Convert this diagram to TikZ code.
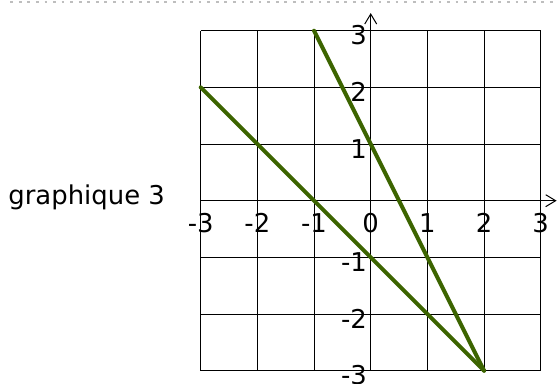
\documentclass[tikz,border=0pt]{standalone}
\usepackage{fontspec}
\setmainfont{DejaVu Sans}
\definecolor{grline}{RGB}{60,100,0}
\definecolor{dotgray}{RGB}{190,190,190}
\usetikzlibrary{arrows.meta}

\begin{document}
\begin{tikzpicture}[
  gridline/.style={draw=black,line width=0.5pt},
  axisline/.style={draw=black,line width=0.5pt,-{Straight Barb[length=5pt,width=6pt]}},
  curve/.style={draw=grline,line width=2pt,line cap=round},
  xlab/.style={anchor=base,inner sep=0pt,font=\fontsize{13}{15}\selectfont},
  ylab/.style={anchor=base east,inner sep=0pt,font=\fontsize{13}{15}\selectfont}
]
  \useasboundingbox (-6.541,-3.234) rectangle (3.287,3.541);
  % Top border
  \draw[dotgray,line width=1.4pt,dash pattern=on 1.4pt off 2.9pt] (-6.36,3.506) -- (3.287,3.506);
  % Grid
  \draw[gridline] (-3,-3) grid (3,3);
  % Axes
  \draw[axisline] (-3,0) -- (3.28,0);
  \draw[axisline] (0,-3) -- (0,3.31);
  % Labels
  \foreach \x in {-3,...,3}
    \node[xlab] (x\x) at (\x,-0.57) {\x};
  \foreach \y in {-3,-2,-1,1,2,3}
    \node[ylab] (y\y) at (-0.06,\y-0.25) {\y};
  \node[anchor=base west,inner sep=0pt,font=\fontsize{13}{15}\selectfont] (title) at (-6.40,-0.076) {graphique 3};
  % Lines
  \coordinate (p1) at (-3,2);
  \coordinate (p2) at (-1,3);
  \coordinate (q) at (2,-3);
  \draw[curve] (p1) -- (q);
  \draw[curve] (p2) -- (q);
\end{tikzpicture}
\end{document}
